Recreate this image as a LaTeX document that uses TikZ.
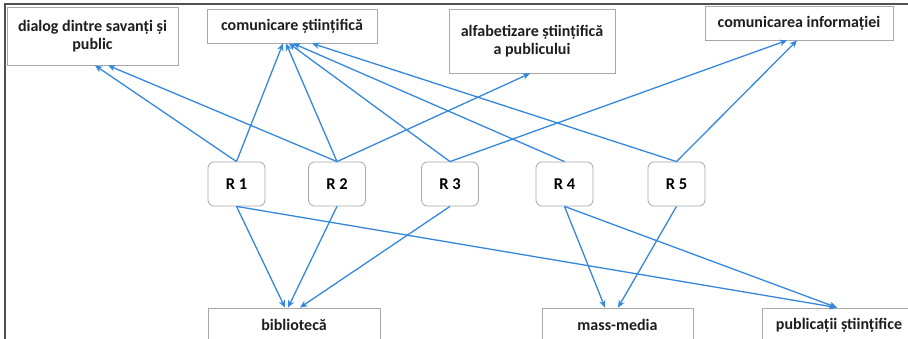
\documentclass[tikz,border=0pt]{standalone}
\usepackage{fontspec}
\setmainfont{Carlito}
\usetikzlibrary{arrows.meta,calc}
\definecolor{arrowblue}{HTML}{3587DC}
\definecolor{boxgray}{HTML}{A8A8A8}
\definecolor{txt}{HTML}{1E1E1E}
\definecolor{framegray}{HTML}{505050}
\begin{document}
\begin{tikzpicture}[x=1pt,y=-1pt,
 lbl/.style={draw=boxgray,line width=0.8pt,fill=white,text=txt,font=\bfseries\fontsize{16}{18}\selectfont,align=center,inner sep=0pt},
 rbox/.style={draw=boxgray,line width=0.8pt,rounded corners=6pt,minimum width=57,minimum height=44,font=\bfseries\fontsize{16.5}{18}\selectfont,text=black,inner sep=0pt},
 conn/.style={draw=arrowblue,line width=1.3pt,-{Stealth[length=7.5pt,width=6.5pt]}}
]
\useasboundingbox (0,0) rectangle (908,339);
\begin{scope}
\clip (0,0) rectangle (908,339);
\draw[framegray,line width=1.5pt] (5,345) -- (5,4) -- (915,4);

\node[lbl,minimum width=171,minimum height=58] (dialog) at (92.5,36) {dialog dintre savanți și\\public};
\node[lbl,minimum width=170,minimum height=34] (comun) at (292,26) {comunicare științifică};
\node[lbl,minimum width=166,minimum height=64] (alfa) at (532,41) {alfabetizare științifică\\a publicului};
\node[lbl,minimum width=188,minimum height=34] (info) at (799,23) {comunicarea informației};

\node[rbox] (R1) at (236.5,184) {R 1};
\node[rbox] (R2) at (337,184) {R 2};
\node[rbox] (R3) at (450,184) {R 3};
\node[rbox] (R4) at (564.5,184) {R 4};
\node[rbox] (R5) at (676.5,184) {R 5};

\node[lbl,minimum width=172,minimum height=34] (biblio) at (294,325) {bibliotecă};
\node[lbl,minimum width=151,minimum height=34] (mass) at (617.5,325) {mass-media};
\node[lbl,minimum width=154,minimum height=34] (pub) at (839,325) {publicații științifice};

\draw[conn] (R1.north) -- ([xshift=2.5pt]dialog.south);
\draw[conn] (R2.north) -- ([xshift=15.5pt]dialog.south);
\draw[conn] (R1.north) -- ([xshift=-9pt]comun.south);
\draw[conn] (R2.north) -- ([xshift=-6pt]comun.south);
\draw[conn] (R3.north) -- ([xshift=-3pt]comun.south);
\draw[conn] (R4.north) -- ([xshift=1pt]comun.south);
\draw[conn] (R5.north) -- ([xshift=20pt]comun.south);
\draw[conn] (R2.north) -- ([xshift=-2pt]alfa.south);
\draw[conn] (R3.north) -- ([xshift=-12pt]info.south);
\draw[conn] (R5.north) -- ([xshift=-2pt]info.south);

\draw[conn] (R1.south) -- ([xshift=-9pt]biblio.north);
\draw[conn] (R2.south) -- ([xshift=-6pt]biblio.north);
\draw[conn] (R3.south) -- ([xshift=6pt]biblio.north);
\draw[conn] (R1.south) -- ([xshift=-2pt]pub.north);
\draw[conn] (R4.south) -- ([xshift=-12.5pt]mass.north);
\draw[conn] (R5.south) -- ([xshift=0.5pt]mass.north);
\draw[conn] (R4.south) -- ([xshift=-2pt]pub.north);
\end{scope}
\end{tikzpicture}
\end{document}
